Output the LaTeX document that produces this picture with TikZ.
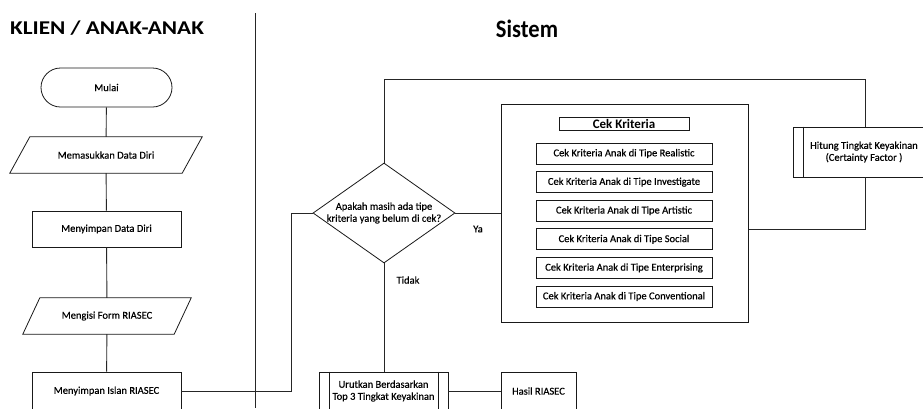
\documentclass[tikz,border=0pt]{standalone}
\usepackage{fontspec}
\setmainfont{Carlito}
\newfontfamily\boxfont{Carlito}[FakeBold=0.35]
\usetikzlibrary{shapes.geometric}
\begin{document}
\begin{tikzpicture}[x=1pt,y=-1pt,
  conn/.style={draw=black!85, line width=0.9pt},
  shp/.style={draw=black!90, line width=0.8pt},
  txt/.style={font=\boxfont\fontsize{10.5}{12}\selectfont, align=center, inner sep=0pt},
  box/.style={shp, txt, rectangle},
  startstop/.style={box, rounded corners=19.5pt, minimum width=131, minimum height=39},
  para/.style={txt, rectangle, minimum height=36},
  decision/.style={shp, diamond, inner sep=0pt, minimum width=142, minimum height=100},
  rowbox/.style={box, minimum width=176, minimum height=21},
  heading/.style={font=\bfseries\fontsize{19.5}{22}\selectfont, inner sep=0pt}
]
\clip (0,0) rectangle (923,408);
\fill[white] (0,0) rectangle (923,408);

% swimlane divider
\coordinate (divtop) at (255,13);
\coordinate (divbot) at (255,408);
\draw[conn] (divtop) -- (divbot);

% titles
\node[heading] (t1) at (107,28.5) {\scalebox{1.19}[1]{KLIEN / ANAK-ANAK}};
\node[heading, font=\bfseries\fontsize{25}{28}\selectfont] (t2) at (527,29) {\scalebox{0.9}[1]{Sistem}};

% left lane
\node[startstop] (start) at (106.5,87.5) {Mulai};
\node[para, minimum width=192] (in1) at (106,155) {Memasukkan Data Diri};
\draw[shp] ([xshift=20pt]in1.north west) -- (in1.north east) -- ([xshift=-20pt]in1.south east) -- (in1.south west) -- cycle;
\node[box, minimum width=149, minimum height=36] (p1) at (106.5,229) {Menyimpan Data Diri};
\node[para, minimum width=168] (in2) at (107,316) {Mengisi Form RIASEC};
\draw[shp] ([xshift=17pt]in2.north west) -- (in2.north east) -- ([xshift=-17pt]in2.south east) -- (in2.south west) -- cycle;
\node[box, minimum width=149, minimum height=38] (p2) at (106.5,391) {Menyimpan Islan RIASEC};

\draw[conn] (start) -- (in1);
\draw[conn] (in1) -- (p1);
\draw[conn] (p1) -- (in2);
\draw[conn] (in2) -- (p2);

% system lane
\node[decision, label={[txt]center:Apakah masih ada tipe\\kriteria yang belum di cek?}] (d) at (384,213) {};
\coordinate (j1) at (291,213);
\draw[conn] (p2.east) -| (j1) -- (d.west);

\node[shp, rectangle, line width=1pt, minimum width=247, minimum height=218, inner sep=0pt] (big) at (624.5,213) {};
\node[box, font=\bfseries\fontsize{13}{14}\selectfont, minimum width=130, minimum height=13] (hdr) at (624,123.5) {Cek Kriteria};
\node[rowbox] (r1) at (624,153.5) {Cek Kriteria Anak di Tipe Realistic};
\node[rowbox] (r2) at (624,182.1) {Cek Kriteria Anak di Tipe Investigate};
\node[rowbox] (r3) at (624,210.7) {Cek Kriteria Anak di Tipe Artistic};
\node[rowbox] (r4) at (624,239.3) {Cek Kriteria Anak di Tipe Social};
\node[rowbox] (r5) at (624,267.9) {Cek Kriteria Anak di Tipe Enterprising};
\node[rowbox] (r6) at (624,296.5) {Cek Kriteria Anak di Tipe Conventional};

\draw[conn] (d.east) -- (big.west);
\node[txt] (ya) at (478,229) {Ya};

\node[box, minimum width=142, minimum height=50] (h) at (864,152) {Hitung Tingkat Keyakinan\\(Certainty Factor )};
\draw[shp] ([xshift=11pt]h.north west) -- ([xshift=11pt]h.south west);
\draw[shp] ([xshift=-11pt]h.north east) -- ([xshift=-11pt]h.south east);

\coordinate (j2) at (865,79);
\draw[conn] (d.north) |- (j2) -- (h.north -| j2);
\coordinate (j3) at (865,229);
\draw[conn] (h.south -| j3) -- (j3) -- (big.east |- j3);

\node[box, minimum width=129, minimum height=38] (u) at (383.5,391) {Urutkan Berdasarkan\\Top 3 Tingkat Keyakinan};
\draw[shp] ([xshift=11pt]u.north west) -- ([xshift=11pt]u.south west);
\draw[shp] ([xshift=-10pt]u.north east) -- ([xshift=-10pt]u.south east);
\node[box, minimum width=75, minimum height=38] (hasil) at (538.5,391) {Hasil RIASEC};

\draw[conn] (d.south) -- (u.north -| d.south);
\node[txt] (tidak) at (408,280) {Tidak};
\draw[conn] (u.east) -- (hasil.west);
\end{tikzpicture}
\end{document}
